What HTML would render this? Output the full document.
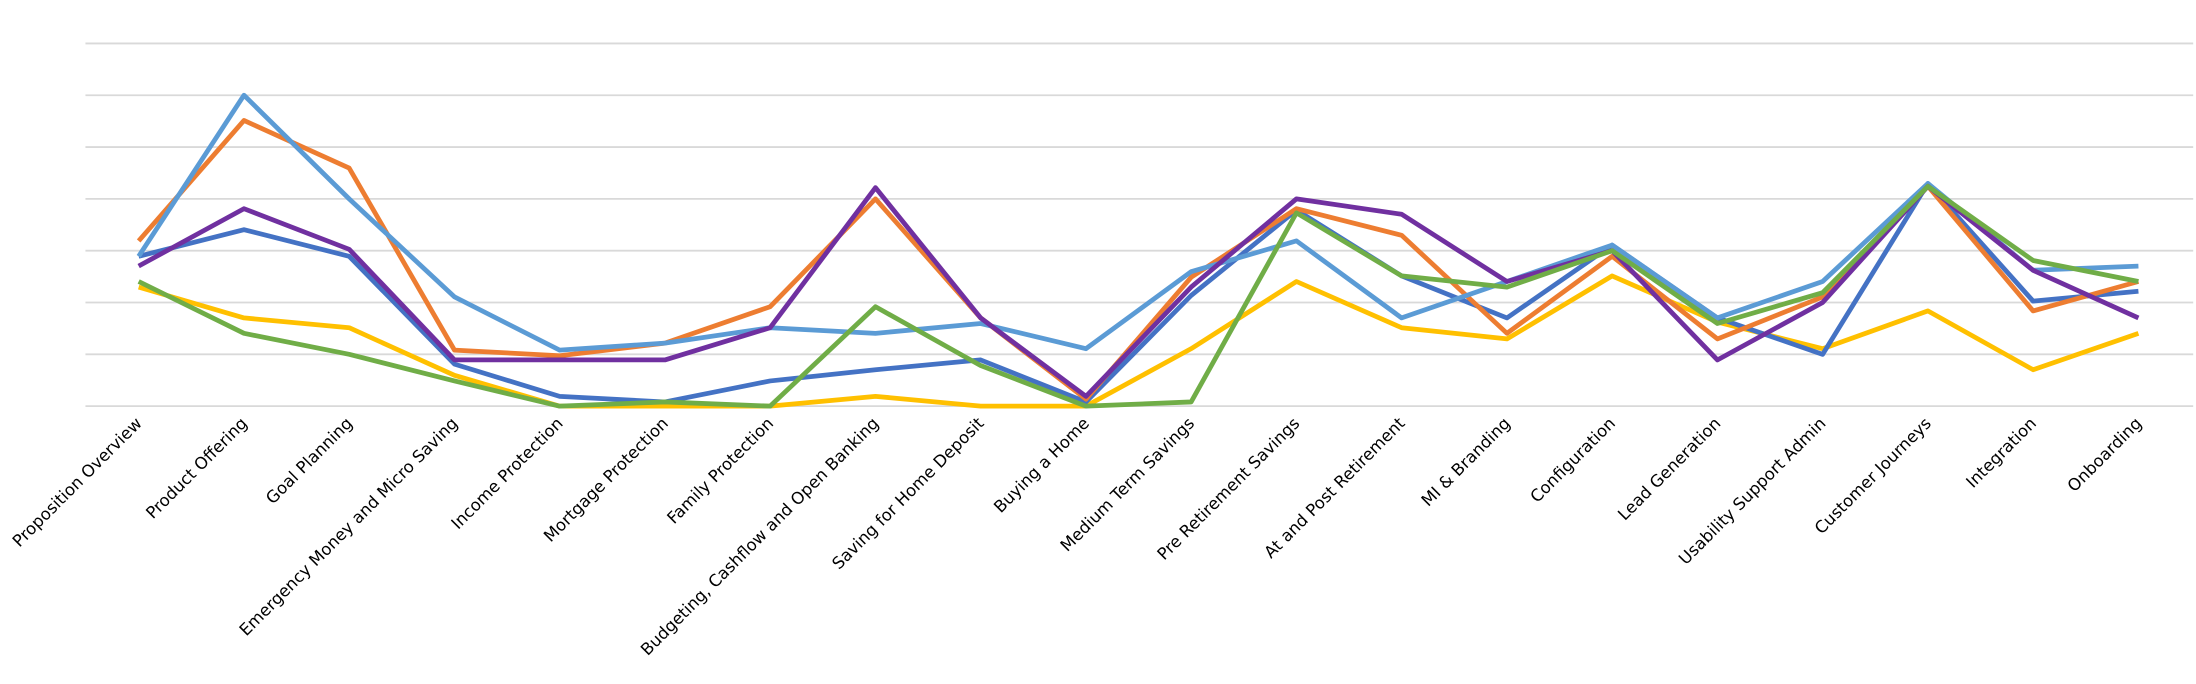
<!DOCTYPE html>
<html><head><meta charset="utf-8"><style>
html,body{margin:0;padding:0;background:#fff;}
svg{display:block;}
text{font-family:"DejaVu Sans","Liberation Sans",sans-serif;font-size:11.8px;fill:#000;}
</style></head><body>
<svg width="2196" height="684" viewBox="0 0 1568 488.4" xmlns="http://www.w3.org/2000/svg">
<g stroke="#d9d9d9" stroke-width="1.3">
<line x1="61" y1="31" x2="1566" y2="31"/>
<line x1="61" y1="68" x2="1566" y2="68"/>
<line x1="61" y1="105" x2="1566" y2="105"/>
<line x1="61" y1="142" x2="1566" y2="142"/>
<line x1="61" y1="179" x2="1566" y2="179"/>
<line x1="61" y1="216" x2="1566" y2="216"/>
<line x1="61" y1="253" x2="1566" y2="253"/>
<line x1="61" y1="290" x2="1566" y2="290"/>
</g>
<g fill="none" stroke-width="3.4" stroke-linejoin="round">
<polyline stroke="#FFC000" points="99,205 174.2,227 249.3,234 324.5,268 399.6,290 474.8,290 549.9,290 625.1,283 700.2,290 775.4,290 850.5,249 925.7,201 1000.8,234 1076,242 1151.1,197 1226.3,230 1301.4,249 1376.6,222 1451.7,264 1526.9,238"/>
<polyline stroke="#4472C4" points="99,183 174.2,164 249.3,183 324.5,260 399.6,283 474.8,287 549.9,272 625.1,264 700.2,257 775.4,287 850.5,211 925.7,150 1000.8,197 1076,227 1151.1,175 1226.3,227 1301.4,253 1376.6,131 1451.7,215 1526.9,208"/>
<polyline stroke="#ED7D31" points="99,172 174.2,86 249.3,120 324.5,250 399.6,254 474.8,245 549.9,219 625.1,142 700.2,227 775.4,285 850.5,198 925.7,149 1000.8,168 1076,238 1151.1,183 1226.3,242 1301.4,212 1376.6,133 1451.7,222 1526.9,201"/>
<polyline stroke="#5B9BD5" points="99,183 174.2,68 249.3,142 324.5,212 399.6,250 474.8,245 549.9,234 625.1,238 700.2,231 775.4,249 850.5,194 925.7,172 1000.8,227 1076,201 1151.1,175 1226.3,227 1301.4,201 1376.6,131 1451.7,193 1526.9,190"/>
<polyline stroke="#7030A0" points="99,190 174.2,149 249.3,178 324.5,257 399.6,257 474.8,257 549.9,234 625.1,134 700.2,227 775.4,283 850.5,205 925.7,142 1000.8,153 1076,201 1151.1,179 1226.3,257 1301.4,216 1376.6,133 1451.7,193 1526.9,227"/>
<polyline stroke="#70AD47" points="99,201 174.2,238 249.3,253 324.5,272 399.6,290 474.8,287 549.9,290 625.1,219 700.2,261 775.4,290 850.5,287 925.7,152 1000.8,197 1076,205 1151.1,179 1226.3,231 1301.4,209 1376.6,133 1451.7,186 1526.9,201"/>
</g>
<g text-anchor="end">
<text transform="translate(102,303) rotate(-45)">Proposition Overview</text>
<text transform="translate(177.2,303) rotate(-45)">Product Offering</text>
<text transform="translate(252.3,303) rotate(-45)">Goal Planning</text>
<text transform="translate(327.5,303) rotate(-45)">Emergency Money and Micro Saving</text>
<text transform="translate(402.6,303) rotate(-45)">Income Protection</text>
<text transform="translate(477.8,303) rotate(-45)">Mortgage Protection</text>
<text transform="translate(552.9,303) rotate(-45)">Family Protection</text>
<text transform="translate(628.1,303) rotate(-45)">Budgeting, Cashflow and Open Banking</text>
<text transform="translate(703.2,303) rotate(-45)">Saving for Home Deposit</text>
<text transform="translate(778.4,303) rotate(-45)">Buying a Home</text>
<text transform="translate(853.5,303) rotate(-45)">Medium Term Savings</text>
<text transform="translate(928.7,303) rotate(-45)">Pre Retirement Savings</text>
<text transform="translate(1003.8,303) rotate(-45)">At and Post Retirement</text>
<text transform="translate(1079,303) rotate(-45)">MI &amp; Branding</text>
<text transform="translate(1154.1,303) rotate(-45)">Configuration</text>
<text transform="translate(1229.3,303) rotate(-45)">Lead Generation</text>
<text transform="translate(1304.4,303) rotate(-45)">Usability Support Admin</text>
<text transform="translate(1379.6,303) rotate(-45)">Customer Journeys</text>
<text transform="translate(1454.7,303) rotate(-45)">Integration</text>
<text transform="translate(1529.9,303) rotate(-45)">Onboarding</text>
</g>
</svg>
</body></html>
